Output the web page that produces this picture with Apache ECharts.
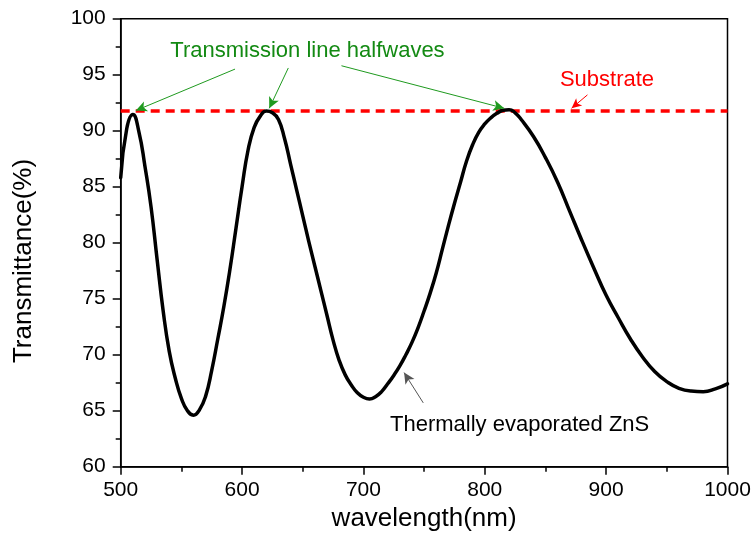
<!DOCTYPE html>
<html>
<head>
<meta charset="utf-8">
<script src="https://cdn.jsdelivr.net/npm/echarts@6/dist/echarts.min.js"></script>
<style>
  html, body { margin: 0; padding: 0; background: #fff; }
  #chart { width: 754px; height: 550px; }
</style>
</head>
<body>
<div id="chart"></div>
<script>
// ---- data ----
const wavelength = [
  500, 505, 510, 515, 520, 525, 530, 535, 540, 545,
  550, 555, 560, 565, 570, 575, 580, 585, 590, 595,
  600, 605, 610, 615, 620, 625, 630, 635, 640, 645,
  650, 655, 660, 665, 670, 675, 680, 685, 690, 695,
  700, 705, 710, 715, 720, 725, 730, 735, 740, 745,
  750, 755, 760, 765, 770, 775, 780, 785, 790, 795,
  800, 805, 810, 815, 820, 825, 830, 840, 850, 860,
  870, 880, 890, 900, 910, 920, 930, 940, 950, 960,
  970, 980, 990, 1000];
const transmittance = [
  85.8, 90.2, 91.45, 89.9, 86.8, 83.2, 78.5, 73.9, 70.3, 67.9,
  66.1, 65.0, 64.6, 65.1, 66.3, 68.6, 71.4, 74.3, 77.6, 81.3,
  85.0, 88.3, 90.3, 91.3, 91.75, 91.6, 91.0, 89.3, 87.0, 84.7,
  82.4, 80.1, 77.9, 75.7, 73.5, 71.3, 69.5, 68.2, 67.3, 66.6,
  66.2, 66.05, 66.25, 66.7, 67.4, 68.15, 69.0, 70.0, 71.1, 72.4,
  73.9, 75.5, 77.3, 79.4, 81.5, 83.5, 85.4, 87.3, 88.75, 89.85,
  90.6, 91.15, 91.55, 91.82, 91.88, 91.6, 91.0, 89.5, 87.6, 85.4,
  82.8, 80.2, 77.7, 75.3, 73.3, 71.4, 69.8, 68.5, 67.6, 67.0,
  66.75, 66.7, 66.95, 67.4];
const substrateRange = [500, 1000];
const substrateLevel = 91.75;
const xTicks = [500, 600, 700, 800, 900, 1000];
const yTicks = [60, 65, 70, 75, 80, 85, 90, 95, 100];

// annotation anchors (data coordinates)
const halfwaveText = { text: 'Transmission line halfwaves', at: [653.9, 97.1] };
const halfwaveArrows = [
  [[594.2, 95.5], [512.5, 91.8]],
  [[638.1, 95.6], [622.4, 92.0]],
  [[681.9, 95.8], [816.0, 92.0]]
];
const substrateText = { text: 'Substrate', at: [900.7, 94.5] };
const substrateArrow = [[884.6, 93.2], [871.5, 92.0]];
const filmText = { text: 'Thermally evaporated ZnS', at: [721.9, 63.7] };
const filmArrow = [[749.3, 65.7], [733.5, 68.4]];

const FONT = "'Liberation Sans', Arial, sans-serif";
const curve = wavelength.map((w, i) => [w, transmittance[i]]);
const substrate = substrateRange.map(w => [w, substrateLevel]);

const chart = echarts.init(document.getElementById('chart'), null, { renderer: 'canvas' });

function arrowLines(pairs) {
  return pairs.map(p => [{ coord: p[0] }, { coord: p[1] }]);
}

const option = {
  animation: false,
  backgroundColor: '#ffffff',
  grid: {
    left: 120.7, right: 26.5, top: 18.7, bottom: 83.3,
    show: true, borderColor: '#000', borderWidth: 1.5, backgroundColor: 'transparent'
  },
  xAxis: {
    type: 'value',
    min: xTicks[0], max: xTicks[xTicks.length - 1], interval: 100,
    name: 'wavelength(nm)', nameLocation: 'middle', nameGap: 38,
    nameTextStyle: { fontSize: 26, color: '#000', fontFamily: FONT },
    axisLine: { show: true, onZero: false, lineStyle: { color: '#000', width: 1.5 } },
    axisTick: { show: true, inside: false, length: 8, lineStyle: { color: '#000', width: 1.5 } },
    minorTick: { show: true, splitNumber: 2, length: 5, lineStyle: { color: '#000', width: 1.5 } },
    axisLabel: { fontSize: 21, color: '#000', fontFamily: FONT, margin: 13, formatter: v => String(v) },
    splitLine: { show: false }, minorSplitLine: { show: false }
  },
  yAxis: {
    type: 'value',
    min: yTicks[0], max: yTicks[yTicks.length - 1], interval: 5,
    axisLine: { show: true, onZero: false, lineStyle: { color: '#000', width: 1.5 } },
    axisTick: { show: true, inside: false, length: 8, lineStyle: { color: '#000', width: 1.5 } },
    minorTick: { show: true, splitNumber: 2, length: 5, lineStyle: { color: '#000', width: 1.5 } },
    axisLabel: { fontSize: 21, color: '#000', fontFamily: FONT, margin: 15, formatter: v => String(v) },
    splitLine: { show: false }, minorSplitLine: { show: false }
  },
  series: [
    {
      name: 'Substrate', type: 'line', data: substrate, symbol: 'none', z: 3,
      lineStyle: { color: '#ff0000', width: 3.5, type: [9, 6] },
      markLine: {
        silent: true, symbol: ['none', 'arrow'], symbolSize: [7, 10],
        label: { show: false },
        lineStyle: { color: '#ff0000', width: 1, type: 'solid' },
        data: arrowLines([substrateArrow])
      }
    },
    {
      name: 'Thermally evaporated ZnS', type: 'line', data: curve, symbol: 'none',
      smooth: 0.5, z: 4,
      lineStyle: { color: '#000', width: 3.5, join: 'round', cap: 'round' },
      markLine: {
        silent: true, symbol: ['none', 'arrow'], symbolSize: [8, 11],
        label: { show: false },
        lineStyle: { color: '#555', width: 1, type: 'solid' },
        itemStyle: { color: '#000' },
        data: arrowLines([filmArrow])
      }
    },
    {
      name: 'halfwaves', type: 'line', data: [], symbol: 'none', z: 5,
      markLine: {
        silent: true, symbol: ['none', 'arrow'], symbolSize: [8, 11],
        label: { show: false },
        lineStyle: { color: '#1f9a1f', width: 1, type: 'solid' },
        itemStyle: { color: '#138a13' },
        data: arrowLines(halfwaveArrows)
      }
    }
  ]
};
chart.setOption(option);

function px(pt) { return chart.convertToPixel({ gridIndex: 0 }, pt); }
const g = [];
function addText(t, color, align) {
  const p = px(t.at);
  g.push({
    type: 'text', x: p[0], y: p[1], z: 10, silent: true,
    style: { text: t.text, fill: color, fontSize: 22, fontFamily: FONT, align: align, verticalAlign: 'middle' }
  });
}
addText(halfwaveText, '#138a13', 'center');
addText(substrateText, '#ff0000', 'center');
addText(filmText, '#000', 'left');
g.push({
  type: 'text', x: 24, y: 261, rotation: Math.PI / 2, silent: true,
  style: { text: 'Transmittance(%)', fill: '#000', fontSize: 26, fontFamily: FONT, align: 'center', verticalAlign: 'middle' }
});
chart.setOption({ graphic: g });
</script>
</body>
</html>
